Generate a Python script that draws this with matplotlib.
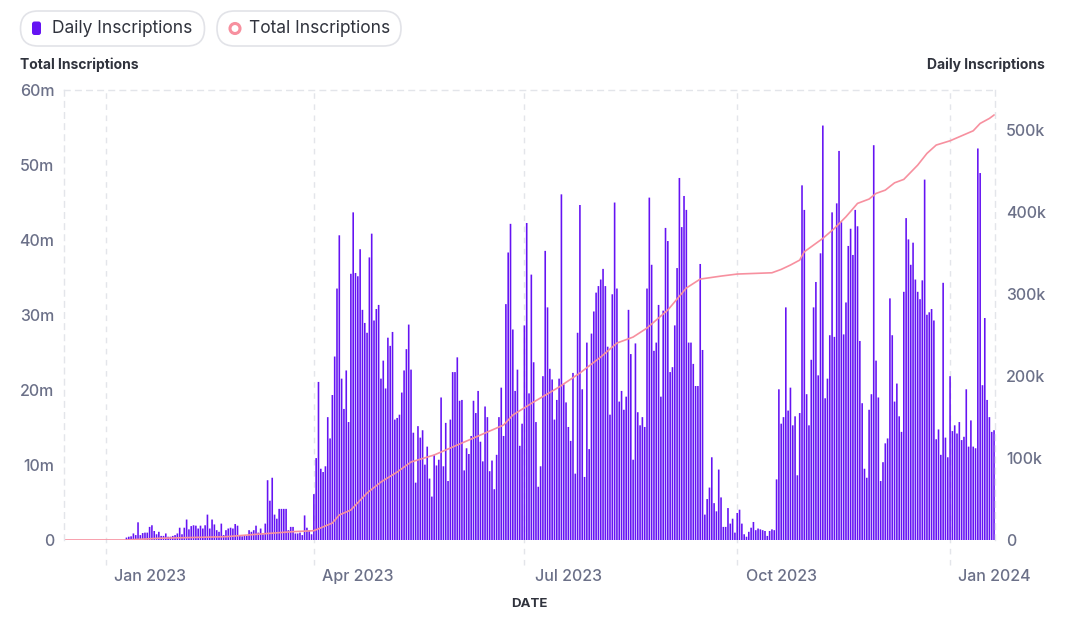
import matplotlib
matplotlib.use("Agg")
import matplotlib.pyplot as plt
from matplotlib.patches import FancyBboxPatch, Circle
from matplotlib.transforms import ScaledTranslation
import pandas as pd

START = "2022-12-14"

# daily inscriptions, thousands, one value per day from START
daily_k = [
    0, 0, 0, 0, 0, 0, 0, 0, 0, 0, 0, 0, 0, 0, 0, 0, 0, 0, 0, 0, 0, 0, 0, 0, 0, 0, 0,
    3, 4, 4.5, 8, 6, 21.6, 6, 8.5, 9, 9, 16, 18, 11, 7, 10, 5, 5, 8, 4, 4,
    5, 6, 8, 15, 7, 15, 25, 13, 17, 18, 17.5, 14, 17.5, 14, 18, 31, 14, 25, 19, 12,
    10, 20, 6, 12, 14, 15, 14, 19.5, 17.5, 5, 4.5, 5, 5, 12, 10, 12, 17.5, 9, 14, 7,
    20, 73, 48, 76, 31, 26, 38, 38, 38, 38, 12, 16, 16, 8, 8, 9, 6, 30,
    15, 12, 7, 56,
    100, 193, 87, 83, 90, 150, 124, 177, 224, 307, 372, 197, 160, 207, 144, 325,
    400, 326, 322, 355, 281, 265, 253, 345, 374, 268, 282, 287, 197, 219, 185, 247,
    237, 254, 147, 149, 153, 180, 207, 233, 263, 208, 131, 70, 139, 125, 134, 92,
    114, 75, 53, 104, 91, 98, 174, 90, 143, 72, 147, 205, 205, 223, 170, 171,
    85, 112, 105, 127, 170, 155, 182, 120, 96, 163, 150, 84, 97, 62, 104, 150,
    186, 127, 288, 351, 386, 257, 182, 208, 115, 142, 262, 387, 179, 324, 217, 144,
    65, 90, 200, 353, 284, 209, 196, 147, 171, 197, 422, 190, 168, 138, 121, 204,
    81, 253, 409, 184, 77, 241, 111, 252, 279, 302, 310, 318, 331, 310, 236, 153,
    300, 412, 307, 169, 182, 159, 175, 281,
    227, 98, 240, 156, 140, 150, 138, 307, 418, 336, 231, 241, 287, 175, 280, 381,
    365, 205, 211, 262, 332, 442, 382, 420, 403, 241, 241, 215, 188, 188, 337, 232,
    31, 50, 64, 101, 45, 35, 86, 52, 16, 16, 39, 20, 26, 9, 33, 37, 20, 7, 4, 10,
    15, 22, 12, 14, 13, 12, 11, 5, 11, 13, 12, 74, 184, 142, 150, 284, 158,
    186, 140, 151, 79, 155, 433, 403, 178, 140, 220, 284, 315, 201, 350, 506, 173,
    197, 250, 400, 248, 411, 475, 388, 251, 290, 359, 380, 348, 403, 383, 243, 167,
    87, 76, 159, 178, 482, 219, 174, 72, 95, 118, 124, 295, 250, 169,
    191, 151, 132, 303, 393, 367, 336, 363, 318, 303, 294, 317, 440, 275, 278, 282,
    268, 123, 135, 104, 314, 125, 101, 200, 133, 140, 130, 144, 122, 126, 184, 114,
    146, 114, 112, 478, 448, 189, 271, 171, 150, 132, 134,
]

# total inscriptions, millions
total_dates = [
    "2022-12-14", "2023-01-10", "2023-01-24", "2023-02-22", "2023-03-09", "2023-03-23",
    "2023-04-01", "2023-04-09", "2023-04-12", "2023-04-17", "2023-04-24", "2023-04-30",
    "2023-05-07", "2023-05-13", "2023-05-23", "2023-06-02", "2023-06-06", "2023-06-15",
    "2023-06-22", "2023-06-26", "2023-07-05", "2023-07-16", "2023-07-25", "2023-08-03",
    "2023-08-10", "2023-08-17", "2023-08-23", "2023-09-01", "2023-09-09", "2023-09-15",
    "2023-09-24", "2023-10-01", "2023-10-16", "2023-10-20", "2023-10-24", "2023-10-28",
    "2023-10-30", "2023-11-07", "2023-11-12", "2023-11-17", "2023-11-22", "2023-11-27",
    "2023-11-30", "2023-12-04", "2023-12-08", "2023-12-12", "2023-12-18", "2023-12-22",
    "2023-12-26", "2024-01-01", "2024-01-11", "2024-01-14", "2024-01-18", "2024-01-20",
]
total_m = [
    0, 0, 0.23, 0.44, 0.80, 1.11, 1.24, 2.26, 3.33, 4.0, 6.26, 7.72,
    9.05, 10.39, 11.32, 12.65, 13.18, 14.38, 15.31, 16.64, 18.38, 20.37, 22.24, 24.37,
    26.23, 27.03, 28.23, 30.63, 33.56, 34.75, 35.15, 35.42, 35.59, 36.04, 36.62, 37.28,
    38.39, 40.17, 41.50, 43.05, 44.83, 45.41, 46.16, 46.60, 47.57, 48.03, 49.93, 51.49,
    52.60, 53.17, 54.50, 55.48, 56.15, 56.60,
]

month_ticks = ["2023-01-01", "2023-04-01", "2023-07-01", "2023-10-01", "2024-01-01"]
month_labels = ["Jan 2023", "Apr 2023", "Jul 2023", "Oct 2023", "Jan 2024"]

PURPLE = "#6513f3"
PINK = "#f7909f"
GRID = "#e3e5ea"
TICK = "#6b7088"
DARK = "#30333d"

plt.rcParams["font.family"] = ["Inter", "DejaVu Sans"]

days = pd.date_range(START, periods=len(daily_k), freq="D")
tdates = pd.to_datetime(total_dates)
ticks = pd.to_datetime(month_ticks)

W, H = 1080, 632
fig = plt.figure(figsize=(W / 100, H / 100), dpi=100)
ax = fig.add_axes([64 / W, 1 - 540 / H, (995 - 64) / W, (540 - 89.5) / H])
ax2 = ax.twinx()

ax2.bar(days, daily_k, width=0.7, color=PURPLE, linewidth=0, zorder=2, snap=False)
for t in ticks:
    ax2.axvline(t, ymin=-0.055, ymax=1, color=GRID, ls=(0, (4, 4)), lw=1,
                clip_on=False, zorder=0)
ax.plot(tdates, total_m, color=PINK, lw=1.2)
ax.set_zorder(ax2.get_zorder() + 1)
ax.patch.set_visible(False)

ax.set_xlim(days[0], days[-1] + pd.Timedelta(hours=10))
ax.set_ylim(0, 60)
ax2.set_ylim(0, 550)
ax.set_yticks(range(0, 61, 10))
ax2.set_yticks(range(0, 501, 100))
ax.yaxis.set_major_formatter(lambda v, p: "0" if v == 0 else f"{v:g}m")
ax2.yaxis.set_major_formatter(lambda v, p: "0" if v == 0 else f"{v:g}k")

ax.set_xticks(ticks)
ax.set_xticklabels(month_labels)
ax.tick_params(axis="x", length=0, pad=21, labelsize=11.5, labelcolor=TICK)
ax.tick_params(axis="y", length=0, pad=7, labelsize=11.5, labelcolor=TICK)
ax2.tick_params(axis="y", length=0, pad=8, labelsize=11.5, labelcolor=TICK)
shift = ScaledTranslation(0.44, 0, fig.dpi_scale_trans)
for lab in ax.get_xticklabels():
    lab.set_transform(lab.get_transform() + shift)
for lab in ax.get_xticklabels() + ax.get_yticklabels() + ax2.get_yticklabels():
    lab.set_fontweight("medium")

for a in (ax, ax2):
    for s in a.spines.values():
        s.set_visible(False)
for side in ("left", "right", "top"):
    ax.spines[side].set_visible(True)
    ax.spines[side].set_color(GRID)
    ax.spines[side].set_linestyle((0, (4, 4)))
    ax.spines[side].set_linewidth(1)

fig.text(20 / W, 1 - 65 / H, "Total Inscriptions", ha="left", va="center",
         fontsize=10, weight="bold", color=DARK)
fig.text(1045 / W, 1 - 65 / H, "Daily Inscriptions", ha="right", va="center",
         fontsize=10, weight="bold", color=DARK)
fig.text(529.5 / W, 1 - 604 / H, "DATE", ha="center", va="center",
         fontsize=9.5, weight="bold", color=DARK)

# legend pills, drawn in pixel coordinates
lg = fig.add_axes([0, 0, 1, 1])
lg.set_xlim(0, W)
lg.set_ylim(H, 0)
lg.axis("off")
for x0 in (20.5, 217):
    lg.add_patch(FancyBboxPatch((x0, 11), 184, 35, boxstyle="round,pad=0,rounding_size=17.5",
                                fc="white", ec="#e2e3e8", lw=1.2))
lg.add_patch(FancyBboxPatch((32, 21.5), 9, 13.5, boxstyle="round,pad=0,rounding_size=2.5",
                            fc=PURPLE, ec="none"))
lg.add_patch(Circle((235, 28.5), 5, fc="white", ec=PINK, lw=2.2))
lg.text(52, 28.5, "Daily Inscriptions", ha="left", va="center", fontsize=12.5, color=DARK)
lg.text(249, 28.5, "Total Inscriptions", ha="left", va="center", fontsize=12.5, color=DARK)

fig.savefig("out.png", dpi=100)
